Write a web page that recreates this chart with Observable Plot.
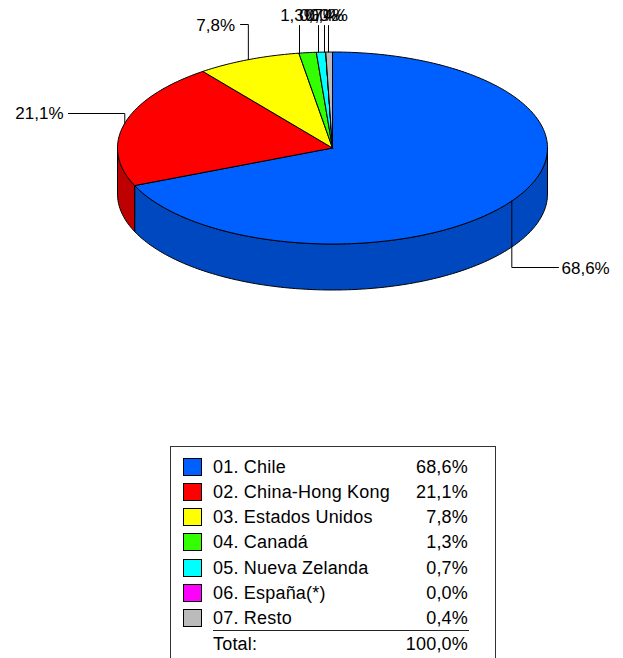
<!DOCTYPE html>
<html lang="es">
<head>
<meta charset="utf-8">
<script src="https://cdn.jsdelivr.net/npm/d3@7"></script>
<script src="https://cdn.jsdelivr.net/npm/@observablehq/plot@0.6"></script>
<style>
  html, body { margin: 0; padding: 0; background: #fff; width: 623px; height: 658px; overflow: hidden; }
  body { position: relative; font-family: "Liberation Sans", Arial, sans-serif; color: #000; }
  #chart svg { display: block; }
  #legend { position: absolute; left: 170px; top: 446px; width: 326px; height: 212px; box-sizing: border-box;
    border: 1px solid #333; border-bottom: none; font-size: 18px; letter-spacing: 0.2px; overflow: hidden; }
  .row { position: absolute; left: 0; width: 100%; height: 25px; line-height: 25px; }
  .sw { position: absolute; left: 12px; top: 3px; width: 19px; height: 18px; box-sizing: border-box; border: 1px solid #000; }
  .nm { position: absolute; left: 42px; white-space: nowrap; }
  .vl { position: absolute; right: 27px; white-space: nowrap; }
  .rule { position: absolute; left: 42px; width: 256px; top: 183px; height: 1px; background: #222; }
</style>
</head>
<body>
<div id="chart"></div>
<div id="legend"></div>
<script>
// Data
const categories = ["01. Chile", "02. China-Hong Kong", "03. Estados Unidos", "04. Canadá", "05. Nueva Zelanda", "06. España(*)", "07. Resto"];
const valueLabels = ["68,6%", "21,1%", "7,8%", "1,3%", "0,7%", "0,0%", "0,4%"];
const shares = [68.6, 21.1, 7.8, 1.3, 0.7, 0.0, 0.5];
const topColors = ["#0060ff", "#ff0000", "#ffff00", "#33ff00", "#00ffff", "#ff00ff", "#bbbbbb"];
const wallColors = ["#0048bf", "#bf0000", "#bfbf00", "#26bf00", "#00bfbf", "#bf00bf", "#8c8c8c"];
const totalLabel = "Total:";
const totalValue = "100,0%";

// Chart frame and pie proportions
const W = 623, H = 440;
const cx = 332, cy = 147.5, rx = 215, ry = 96, depth = 46 / ry;
const ux = (px) => (px - cx) / rx;
const uy = (py) => (cy - py) / ry;
const at = (a, drop = 0) => ({x: Math.sin(a), y: Math.cos(a) - drop});

const arcs = d3.pie().sort(null)(shares);
const step = Math.PI / 180;
function arcPoints(a0, a1) {
  const n = Math.max(1, Math.ceil((a1 - a0) / step));
  return d3.range(n + 1).map((i) => a0 + (a1 - a0) * i / n);
}

// Top faces of the slices
const faces = arcs.flatMap((d, i) => {
  const pts = [{x: 0, y: 0}, ...arcPoints(d.startAngle, d.endAngle).map((a) => at(a)), {x: 0, y: 0}];
  return pts.map((p) => ({...p, k: categories[i], fill: topColors[i]}));
});

// Visible outer wall: lower half of the ellipse
const walls = arcs.flatMap((d, i) => {
  const a0 = Math.max(d.startAngle, Math.PI / 2), a1 = Math.min(d.endAngle, 3 * Math.PI / 2);
  if (a1 <= a0) return [];
  const front = arcPoints(a0, a1);
  const pts = [...front.map((a) => at(a)), ...front.slice().reverse().map((a) => at(a, depth)), at(a0)];
  return pts.map((p) => ({...p, k: categories[i], fill: wallColors[i]}));
});

const mid = (i) => (arcs[i].startAngle + arcs[i].endAngle) / 2;
const rimAtX = (px) => {
  const s = ux(px);
  return {x: s, y: Math.sqrt(1 - s * s)};
};
// Leader lines: rim anchor, elbow, end
const leaders = [
  [at(mid(0)), {x: Math.sin(mid(0)), y: uy(267)}, {x: ux(558), y: uy(267)}],
  [at(mid(1)), {x: Math.sin(mid(1)), y: uy(113)}, {x: ux(68), y: uy(113)}],
  [at(mid(2)), {x: Math.sin(mid(2)), y: uy(24)}, {x: ux(240), y: uy(24)}],
  ...[299, 318, 324, 328].map((px) => [rimAtX(px), {x: ux(px), y: uy(25)}])
].flatMap((pts, i) => pts.map((p) => ({...p, k: i})));

const labels = [
  {x: ux(561), y: uy(268), text: valueLabels[0], anchor: "start"},
  {x: ux(63), y: uy(113), text: valueLabels[1], anchor: "end"},
  {x: ux(234.5), y: uy(25), text: valueLabels[2], anchor: "end"},
  {x: ux(299), y: uy(15), text: valueLabels[3], anchor: "middle"},
  {x: ux(318), y: uy(15), text: valueLabels[4], anchor: "middle"},
  {x: ux(324), y: uy(15), text: valueLabels[5], anchor: "middle"},
  {x: ux(328), y: uy(15), text: valueLabels[6], anchor: "middle"}
];

const textMark = (a) => Plot.text(labels.filter((d) => d.anchor === a), {
  x: "x", y: "y", text: "text", textAnchor: a, lineAnchor: "middle",
  fontSize: 17, fontFamily: "Liberation Sans", fill: "#000"
});

const plot = Plot.plot({
  width: W, height: H,
  margin: 0,
  x: {type: "linear", domain: [ux(0), ux(W)], range: [0, W], axis: null},
  y: {type: "linear", domain: [uy(H), uy(0)], range: [H, 0], axis: null},
  style: {background: "transparent"},
  marks: [
    Plot.line(walls, {x: "x", y: "y", z: "k", fill: "fill", stroke: "#000", strokeWidth: 1, curve: "linear"}),
    Plot.line(faces, {x: "x", y: "y", z: "k", fill: "fill", stroke: "#000", strokeWidth: 1, curve: "linear"}),
    Plot.line(leaders, {x: "x", y: "y", z: "k", stroke: "#000", strokeWidth: 1, curve: "linear"}),
    textMark("start"), textMark("middle"), textMark("end")
  ]
});
document.getElementById("chart").append(plot);

// Legend table
const legend = document.getElementById("legend");
const rowTops = [8, 33, 58, 83, 109, 134, 159];
categories.forEach((name, i) => {
  const row = document.createElement("div");
  row.className = "row";
  row.style.top = rowTops[i] + "px";
  const sw = document.createElement("div");
  sw.className = "sw"; sw.style.background = topColors[i];
  const nm = document.createElement("div");
  nm.className = "nm"; nm.textContent = name;
  const vl = document.createElement("div");
  vl.className = "vl"; vl.textContent = valueLabels[i];
  row.append(sw, nm, vl);
  legend.append(row);
});
const rule = document.createElement("div");
rule.className = "rule";
legend.append(rule);
const total = document.createElement("div");
total.className = "row";
total.style.top = "185px";
const tn = document.createElement("div"); tn.className = "nm"; tn.textContent = totalLabel;
const tv = document.createElement("div"); tv.className = "vl"; tv.textContent = totalValue;
total.append(tn, tv);
legend.append(total);
</script>
</body>
</html>
